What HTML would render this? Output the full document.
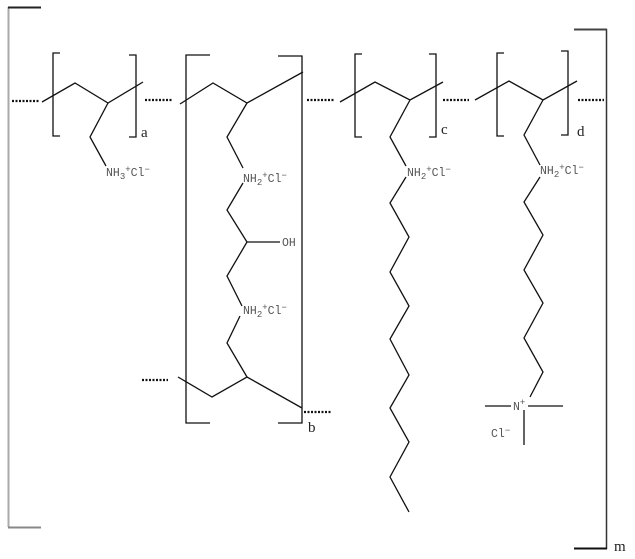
<!DOCTYPE html>
<html><head><meta charset="utf-8"><style>
html,body{margin:0;padding:0;background:#fff;width:635px;height:559px;overflow:hidden}
svg{display:block}
.t{font-family:"Liberation Mono",monospace;font-size:11.5px;fill:#555}
.s{font-family:"Liberation Serif",serif;font-size:15px;fill:#222}
</style></head><body>
<svg width="635" height="559" viewBox="0 0 635 559" xmlns="http://www.w3.org/2000/svg">
<g fill="none" stroke="#111" stroke-width="1.3" stroke-linejoin="miter">
<path d="M8.5 7V527" stroke="#aaa" stroke-width="2"/>
<path d="M8 7.5H41" stroke="#222" stroke-width="2"/>
<path d="M8 527.5H41" stroke="#888" stroke-width="2"/>
<path d="M606.5 29V549" stroke="#333" stroke-width="1.5"/>
<path d="M574 29.5H607" stroke="#444" stroke-width="2"/>
<path d="M574 548.5H607" stroke="#111" stroke-width="2"/>
<g stroke-dasharray="2 1.5" stroke-width="2.2">
<path d="M12 101H39"/><path d="M145 100H172"/><path d="M307 100H334"/><path d="M443 100H469"/><path d="M578 100H604"/>
<path d="M142 380H168"/><path d="M304 412H331"/>
</g>
<path d="M60 53H53V136H60"/><path d="M129 55H136V137H129"/>
<path d="M42 102L75 83L108 103L143 82"/>
<path d="M108 103L90 137L106 166"/>
<path d="M210 55H186V423H210"/><path d="M278 56H302V423H278"/>
<path d="M180 104L213 83L247 103L303 72"/>
<path d="M247 103L227 137L243 168"/>
<path d="M243 183L227 210L247 242L227 276L242 306"/>
<path d="M247 242H280"/>
<path d="M240 316L227 343L247 377"/>
<path d="M178 377L212 397L247 377L302 408"/>
<path d="M362 54H355V137H362"/><path d="M429 54H436V137H429"/>
<path d="M340 102L375 82L410 100L443 82"/>
<path d="M410 100L390 137L406 166"/>
<path d="M406 177L390 203L409 237L390 272L409 306L390 339L409 375L390 408L409 442L390 477L409 512"/>
<path d="M504 53H497V136H504"/><path d="M561 51H568V135H561"/>
<path d="M475 100L509 81L543 100L577 81"/>
<path d="M543 100L524 135L540 165"/>
<path d="M540 177L524 202L543 235L524 270L543 303L524 338L543 372L530 397"/>
<path d="M485 406H511"/><path d="M528 406H563"/><path d="M524 410V445"/>
</g>
<text class="t" x="106" y="176">NH<tspan dy="3" font-size="9">3</tspan><tspan dy="-7" font-size="9">+</tspan><tspan dy="4">Cl</tspan><tspan dy="-4" font-size="9">−</tspan></text>
<text class="t" x="243" y="182">NH<tspan dy="3" font-size="9">2</tspan><tspan dy="-7" font-size="9">+</tspan><tspan dy="4">Cl</tspan><tspan dy="-4" font-size="9">−</tspan></text>
<text class="t" x="282" y="246">OH</text>
<text class="t" x="243" y="314">NH<tspan dy="3" font-size="9">2</tspan><tspan dy="-7" font-size="9">+</tspan><tspan dy="4">Cl</tspan><tspan dy="-4" font-size="9">−</tspan></text>
<text class="t" x="407" y="176">NH<tspan dy="3" font-size="9">2</tspan><tspan dy="-7" font-size="9">+</tspan><tspan dy="4">Cl</tspan><tspan dy="-4" font-size="9">−</tspan></text>
<text class="t" x="540" y="174">NH<tspan dy="3" font-size="9">2</tspan><tspan dy="-7" font-size="9">+</tspan><tspan dy="4">Cl</tspan><tspan dy="-4" font-size="9">−</tspan></text>
<text class="t" x="513" y="410">N<tspan dy="-5" font-size="9">+</tspan></text>
<text class="t" x="491" y="437">Cl<tspan dy="-4" font-size="9">−</tspan></text>
<text class="s" x="141" y="137">a</text>
<text class="s" x="308" y="432">b</text>
<text class="s" x="441" y="134">c</text>
<text class="s" x="577" y="136">d</text>
<text class="s" x="614" y="551" font-size="13">m</text>
</svg>
</body></html>
